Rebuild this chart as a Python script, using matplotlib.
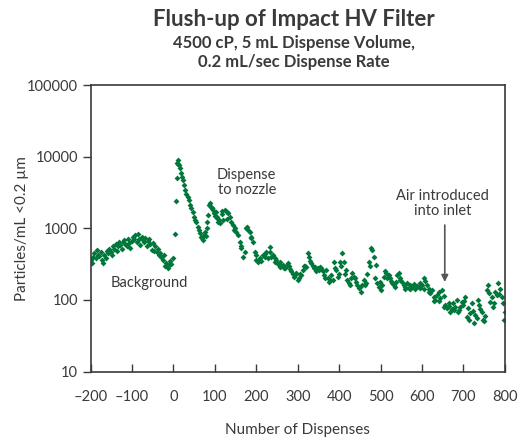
import numpy as np
import matplotlib.pyplot as plt

plt.rcParams['font.family'] = ['Lato', 'DejaVu Sans']

# Background (before dispensing)
bg_x = [-200, -197, -194, -191, -188, -185, -182, -179, -176, -173, -170, -167, -164, -161, -158, -155,
        -152, -149, -146, -143, -140, -137, -134, -131, -128, -125, -122, -119, -116, -113, -110, -107,
        -104, -101, -98, -95, -92, -89, -86, -83, -80, -77, -74, -71, -68, -65, -62, -59, -56, -53, -50,
        -47, -44, -41, -38, -35, -32, -29, -26, -23, -20, -17, -14, -11, -8, -5, -2]
bg_y = [360, 330, 400, 450, 380, 500, 430, 410, 470, 360, 330, 420, 390, 480, 450, 520,
        470, 430, 560, 510, 600, 480, 560, 640, 590, 520, 650, 690, 600, 560, 700, 620,
        530, 660, 750, 700, 800, 650, 820, 720, 580, 760, 680, 640, 730, 560, 660, 700, 600, 500, 620,
        480, 560, 460, 520, 420, 450, 400, 360, 420, 300, 330, 280, 310, 350, 320, 390]

# Spike after dispense to nozzle
spike_x = [3, 6, 8, 9, 10, 11, 13, 15, 18, 20, 23, 25, 28, 31, 34, 37, 40, 43, 46, 49,
           52, 55, 58, 61, 64, 67, 70, 72, 74, 76, 78, 80, 82, 84, 86, 88, 90, 92, 94, 96,
           98, 100, 102, 104, 106, 108, 110]
spike_y = [830, 2400, 5000, 8200, 8900, 8000, 7600, 7000, 5900, 5200, 4700, 4000, 3400, 3000, 2700, 2450, 2100, 1900, 1700, 1450,
           1300, 1230, 1050, 950, 860, 760, 730, 680, 800, 900, 780, 1230, 1000, 1530, 2100, 2240, 2000, 1900, 1950, 1800,
           1650, 1500, 1700, 1380, 1450, 1230, 1300]

# Flush-up
flush_x = [112, 116, 120, 124, 128, 132, 136, 140, 144, 148, 152, 156, 160, 164, 168, 172, 176, 180, 184, 188,
           192, 196, 200, 204, 208, 212, 216, 220, 224, 228, 232, 236, 240, 244, 248, 252, 256, 260, 264, 268,
           272, 276, 280, 284, 288, 292, 296, 300, 304, 308, 312, 316, 320, 324, 328, 332, 336, 340, 344, 348,
           352, 356, 360, 364, 368, 372, 376, 380, 384, 388, 392, 396, 400, 404, 408, 412, 416, 420, 424, 428,
           432, 436, 440, 444, 448, 452, 456, 460, 464, 468, 472, 476, 480, 484, 488, 492, 496, 500, 504, 508,
           512, 516, 520, 524, 528, 532, 536, 540, 544, 548, 552, 556, 560, 564, 568, 572, 576, 580, 584, 588,
           592, 596, 600, 604, 608, 612, 616, 620, 624, 628, 632, 636, 640, 644, 648, 652, 656, 660, 664, 668,
           672, 676, 680, 684, 688, 692, 696, 700, 704, 708, 712, 716, 720, 724, 728, 732, 736, 740, 744, 748,
           752, 756, 760, 764, 768, 772, 776, 780, 784, 788, 792, 796, 800]
flush_y = [1180, 1600, 1300, 1800, 1700, 1620, 1450, 1230, 1110, 1000, 900, 800, 650, 525, 400, 470, 1000, 950, 900, 730,
           650, 470, 360, 340, 380, 350, 420, 400, 470, 380, 550, 400, 430, 380, 360, 320, 340, 300, 310, 280,
           300, 330, 300, 250, 230, 210, 240, 190, 200, 220, 260, 300, 290, 445, 400, 330, 300, 275, 250, 280,
           260, 275, 250, 220, 260, 200, 180, 220, 190, 340, 260, 210, 230, 300, 445, 340, 260, 190, 170, 200,
           235, 210, 180, 160, 145, 130, 160, 190, 170, 230, 340, 525, 500, 400, 310, 170, 150, 137, 160, 210,
           235, 200, 220, 185, 170, 160, 180, 220, 240, 200, 175, 160, 150, 170, 145, 160, 150, 165, 140, 155,
           150, 170, 160, 200, 185, 160, 140, 125, 137, 110, 100, 117, 130, 105, 137, 115, 85, 76, 90, 68,
           75, 90, 80, 100, 68, 80, 94, 85, 110, 58, 76, 65, 90, 70, 61, 55, 100, 75, 68, 52,
           60, 137, 160, 94, 110, 80, 130, 117, 170, 140, 110, 90, 68]

# Extra scattered readings in the flush-up band
extra_x = [118, 130, 146, 162, 178, 186, 198, 206, 222, 234, 246, 258, 270, 282, 294, 306, 318, 330, 342, 354,
           366, 378, 390, 402, 414, 426, 438, 450, 462, 474, 486, 498, 510, 522, 534, 546, 558, 570, 582, 594,
           606, 618, 630, 642, 654, 666, 678, 690, 702, 714, 726, 738, 750, 762, 774, 786, 798]
extra_y = [1750, 1350, 950, 560, 1050, 760, 420, 360, 440, 460, 340, 290, 275, 270, 220, 230, 300, 350, 290, 290,
           200, 190, 280, 340, 230, 160, 200, 150, 160, 300, 200, 180, 250, 200, 150, 190, 140, 140, 150, 145,
           140, 130, 95, 95, 80, 82, 72, 72, 95, 52, 48, 85, 50, 125, 90, 120, 52]

x = np.array(bg_x + spike_x + flush_x + extra_x)
y = np.array(bg_y + spike_y + flush_y + extra_y)

text_c = '#3a3a3a'
green = '#00783c'

fig = plt.figure(figsize=(5.21, 4.42), dpi=100)
ax = fig.add_axes([0.174, 0.1595, 0.795, 0.648])

ax.scatter(x, y, marker='D', s=9, color=green, linewidths=0)

ax.set_yscale('log')
ax.set_xlim(-200, 800)
ax.set_ylim(10, 100000)
ax.set_xticks(np.arange(-200, 801, 100))
ax.set_xticklabels(['\u2013200', '\u2013100', '0', '100', '200', '300', '400', '500', '600', '700', '800'])
ax.set_yticks([10, 100, 1000, 10000, 100000])
ax.set_yticklabels(['10', '100', '1000', '10000', '100000'])
ax.yaxis.set_minor_locator(plt.NullLocator())

for s in ax.spines.values():
    s.set_color(text_c)
    s.set_linewidth(1.2)
ax.tick_params(axis='x', direction='in', length=6, width=1, color=text_c,
               labelsize=10.5, labelcolor=text_c, pad=13)
ax.tick_params(axis='y', direction='out', length=6, width=1, color=text_c,
               labelsize=10.5, labelcolor=text_c, pad=3)

ax.set_xlabel('Number of Dispenses', fontsize=11, color=text_c, labelpad=14)
ax.set_ylabel('Particles/mL <0.2 \u00b5m', fontsize=11, color=text_c, labelpad=-1)

fig.text(0.564, 0.957, 'Flush-up of Impact HV Filter', ha='center', va='center',
         fontsize=16, fontweight='bold', color=text_c)
fig.text(0.564, 0.902, '4500 cP, 5 mL Dispense Volume,', ha='center', va='center',
         fontsize=12, fontweight='bold', color=text_c)
fig.text(0.564, 0.859, '0.2 mL/sec Dispense Rate', ha='center', va='center',
         fontsize=12, fontweight='bold', color=text_c)

ax.text(-59, 172, 'Background', ha='center', va='center', fontsize=10.5, color=text_c)
ax.text(177, 4300, 'Dispense\nto nozzle', ha='center', va='center', fontsize=10.5,
        color=text_c, linespacing=1.1)
ax.text(650, 2250, 'Air introduced\ninto inlet', ha='center', va='center', fontsize=10.5,
        color=text_c, linespacing=1.1)
ax.annotate('', xy=(655, 178), xytext=(655, 1110),
            arrowprops=dict(arrowstyle='-|>', color='#555555', lw=1.2,
                            mutation_scale=10, shrinkA=0, shrinkB=0))

fig.savefig('out.png', dpi=100)
